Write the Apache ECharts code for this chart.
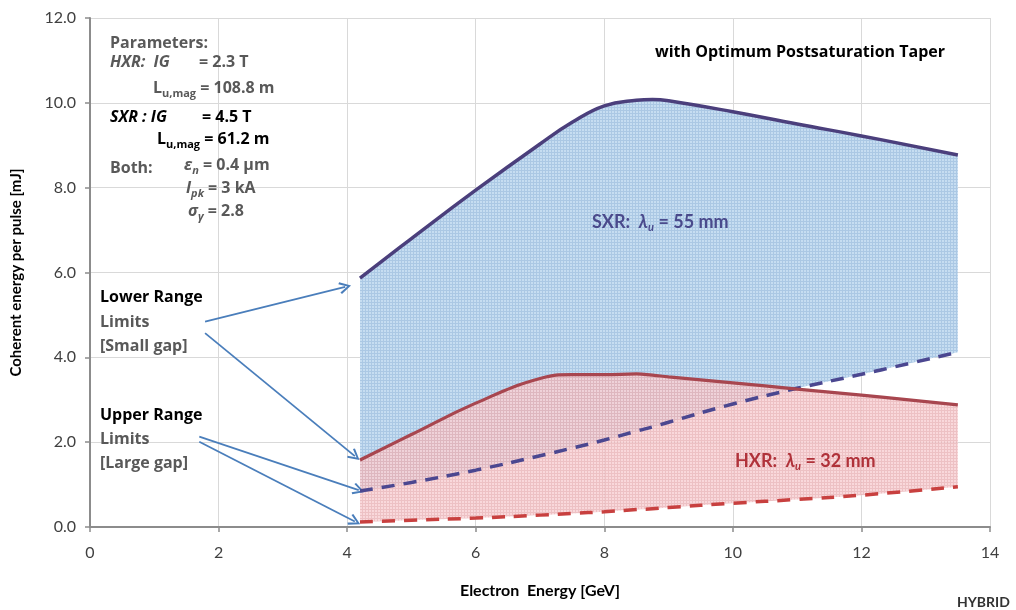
<!DOCTYPE html>
<html>
<head>
<meta charset="utf-8">
<script src="https://cdn.jsdelivr.net/npm/echarts@6/dist/echarts.min.js"></script>
<style>
  html, body { margin: 0; padding: 0; background: #fff; }
  #chart { width: 1016px; height: 610px; }
</style>
</head>
<body>
<div id="chart"></div>
<script>
// electron energy samples [GeV]
const energy    = [4.2, 5.0, 6.0, 7.0, 7.5, 8.0, 8.5, 8.75, 9.0, 10.0, 11.0, 12.0, 13.5];
// SXR (lambda_u = 55 mm) pulse energy [mJ]
const sxrUpper  = [5.87, 6.80, 7.94, 9.03, 9.54, 9.93, 10.06, 10.08, 10.05, 9.79, 9.50, 9.22, 8.77];
const sxrLower  = [0.85, 1.05, 1.34, 1.68, 1.86, 2.05, 2.26, 2.36, 2.47, 2.90, 3.27, 3.60, 4.12];
// HXR (lambda_u = 32 mm) pulse energy [mJ]
const hxrUpper  = [1.58, 2.18, 2.92, 3.50, 3.59, 3.59, 3.61, 3.58, 3.54, 3.40, 3.25, 3.11, 2.88];
const hxrLower  = [0.12, 0.16, 0.21, 0.28, 0.32, 0.36, 0.41, 0.43, 0.46, 0.56, 0.65, 0.75, 0.95];

const xTicks = [0, 14, 2];
const yTicks = [0, 12, 2];

// arrow annotations: [from, to] in data units
const arrows = [
  [[1.79, 4.84], [3.97, 5.66]],
  [[1.79, 4.57], [4.12, 1.67]],
  [[1.70, 2.13], [4.18, 0.87]],
  [[1.70, 2.01], [4.12, 0.13]]
];

const pairs = (ys) => energy.map((x, i) => [x, ys[i]]);
// value first so the stack runs on the energy axis' partner (y)
const stackPairs = (ys) => energy.map((x, i) => [ys[i], x]);
const diffPairs = (a, b) => energy.map((x, i) => [+(a[i] - b[i]).toFixed(3), x]);

function tile(base, line) {
  const c = document.createElement('canvas');
  c.width = 3; c.height = 3;
  const ctx = c.getContext('2d');
  ctx.fillStyle = base; ctx.fillRect(0, 0, 3, 3);
  ctx.fillStyle = line;
  ctx.fillRect(0, 2, 3, 1);
  ctx.fillRect(2, 0, 1, 3);
  return c;
}

const FONT = '"Open Sans", Lato, sans-serif';
const NARROW = 'Lato, sans-serif';
const GRAY = '#595959';
const sub = { fontSize: 11, lineHeight: 11, verticalAlign: 'bottom', fontWeight: 'bold', fontFamily: FONT };
const ital = (size, fam, fill) => ({ fontStyle: 'italic', fontWeight: 'bold', fontSize: size, fontFamily: fam, fill: fill });
const subI = (fam, fill) => Object.assign({}, sub, { fontStyle: 'italic', fontFamily: fam, fill: fill });

function txt(x, y, text, color, size, rich, fam) {
  return {
    type: 'text', left: x, top: y, z: 100,
    style: {
      text: text, fill: color, fontSize: size || 16, fontWeight: 'bold',
      fontFamily: fam || FONT, lineHeight: 22, rich: rich || {}
    }
  };
}

const chart = echarts.init(document.getElementById('chart'));

const lineBase = { type: 'line', symbol: 'none', smooth: 0.45, silent: true };
const bandBase = Object.assign({}, lineBase, {
  dimensions: ['v', 'e'], encode: { x: 'e', y: 'v' }, lineStyle: { opacity: 0 }
});

const option = {
  animation: false,
  grid: { left: 90, right: 26, top: 18, bottom: 83 },
  xAxis: {
    type: 'value', min: xTicks[0], max: xTicks[1], interval: xTicks[2],
    name: 'Electron  Energy [GeV]', nameLocation: 'middle', nameGap: 56,
    nameTextStyle: { fontSize: 16, fontWeight: 'bold', color: '#000', fontFamily: NARROW },
    axisLine: { lineStyle: { color: '#8c8c8c', width: 2 } },
    axisTick: { show: true, length: 5, lineStyle: { color: '#8c8c8c', width: 1.5 } },
    axisLabel: { fontSize: 16, color: '#404040', margin: 18, fontFamily: NARROW },
    splitLine: { lineStyle: { color: '#d9d9d9', width: 1 } }
  },
  yAxis: {
    type: 'value', min: yTicks[0], max: yTicks[1], interval: yTicks[2],
    name: 'Coherent energy per pulse [mJ]', nameLocation: 'middle', nameGap: 66,
    nameTextStyle: { fontSize: 15, fontWeight: 'bold', color: '#000', fontFamily: NARROW },
    axisLine: { show: true, lineStyle: { color: '#8c8c8c', width: 2 } },
    axisTick: { show: true, length: 5, lineStyle: { color: '#8c8c8c', width: 1.5 } },
    axisLabel: { fontSize: 16, color: '#404040', margin: 14, fontFamily: NARROW,
                 formatter: (v) => v.toFixed(1) },
    splitLine: { lineStyle: { color: '#d9d9d9', width: 1 } }
  },
  series: [
    Object.assign({}, bandBase, { name: 'sxrBase', stack: 'sxr', data: stackPairs(sxrLower) }),
    Object.assign({}, bandBase, {
      name: 'sxrBand', stack: 'sxr', data: diffPairs(sxrUpper, sxrLower),
      areaStyle: { color: { image: tile('#c6ddf1', '#abc8e4'), repeat: 'repeat' }, opacity: 1 }
    }),
    Object.assign({}, bandBase, { name: 'hxrBase', stack: 'hxr', data: stackPairs(hxrLower) }),
    Object.assign({}, bandBase, {
      name: 'hxrBand', stack: 'hxr', data: diffPairs(hxrUpper, hxrLower),
      areaStyle: { color: { image: tile('#f8d0d3', '#eab4b8'), repeat: 'repeat' }, opacity: 0.82 }
    }),
    Object.assign({}, lineBase, {
      name: 'SXR lower', data: pairs(sxrLower), z: 5,
      lineStyle: { color: '#4b4790', width: 3.5, type: [13, 9] }
    }),
    Object.assign({}, lineBase, {
      name: 'HXR lower', data: pairs(hxrLower), z: 5,
      lineStyle: { color: '#c8403f', width: 3.5, type: [13, 9] }
    }),
    Object.assign({}, lineBase, {
      name: 'HXR upper', data: pairs(hxrUpper), z: 6,
      lineStyle: { color: '#a8464f', width: 3.2 }
    }),
    Object.assign({}, lineBase, {
      name: 'SXR upper', data: pairs(sxrUpper), z: 6,
      lineStyle: { color: '#4b3f7c', width: 3.5 }
    }),
    {
      type: 'line', name: 'arrows', data: [], silent: true, z: 7,
      markLine: {
        silent: true, animation: false,
        symbol: ['none', 'path://M5,0 L10,9 L8.6,10 L5,3.2 L1.4,10 L0,9 Z'],
        symbolSize: [12, 12],
        label: { show: false },
        lineStyle: { color: '#4a7ebb', width: 1.8, type: 'solid' },
        data: arrows.map(a => [{ coord: a[0] }, { coord: a[1] }])
      }
    }
  ],
  graphic: [
    txt(110, 32, 'Parameters:', GRAY),
    txt(110, 51, '{i|HXR:  IG}', GRAY, 16, { i: ital(16, FONT, GRAY) }),
    txt(199, 51, '= 2.3 T', GRAY),
    txt(153, 77, 'L{s|u,mag} = 108.8 m', GRAY, 16, { s: sub }),
    txt(110, 106, '{i|SXR : IG}', '#000', 16, { i: ital(16, FONT, '#000') }),
    txt(202, 106, '= 4.5 T', '#000'),
    txt(157, 128, 'L{s|u,mag} = 61.2 m', '#000', 16, { s: sub }),
    txt(110, 157, 'Both:', GRAY),
    txt(184, 154, '{i|ε}{si|n} = 0.4 µm', GRAY, 16, { i: ital(16, FONT, GRAY), si: subI(FONT, GRAY) }),
    txt(186, 177, '{i|I}{si|pk} = 3 kA', GRAY, 16, { i: ital(16, FONT, GRAY), si: subI(FONT, GRAY) }),
    txt(188, 200, '{i|σ}{si|γ} = 2.8', GRAY, 16, { i: ital(16, FONT, GRAY), si: subI(FONT, GRAY) }),

    txt(655, 41, 'with Optimum Postsaturation Taper', '#000', 16),

    txt(100, 286, 'Lower Range', '#000'),
    txt(100, 311, 'Limits', GRAY),
    txt(100, 335, '[Small gap]', GRAY),
    txt(100, 404, 'Upper Range', '#000'),
    txt(100, 428, 'Limits', GRAY),
    txt(100, 452, '[Large gap]', GRAY),

    txt(592, 211, 'SXR:  {i|λ}{si|u} = 55 mm', '#4a4a8c', 18,
        { i: ital(18, NARROW, '#4a4a8c'), si: subI(NARROW, '#4a4a8c') }, NARROW),
    txt(735, 450, 'HXR:  {i|λ}{si|u} = 32 mm', '#b0323a', 18,
        { i: ital(18, NARROW, '#b0323a'), si: subI(NARROW, '#b0323a') }, NARROW),

    txt(957, 591, 'HYBRID', '#333', 14, null, NARROW)
  ]
};

chart.setOption(option);
</script>
</body>
</html>
